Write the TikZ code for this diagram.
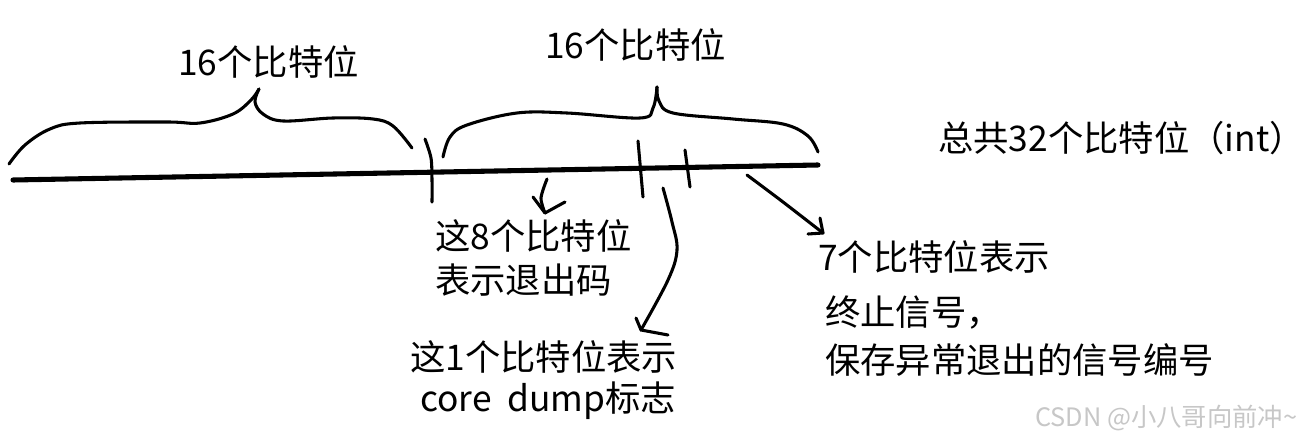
\documentclass[tikz,border=0pt]{standalone}
\usepackage{fontspec}
\newfontfamily\cjk{Noto Sans CJK SC}
\begin{document}
\begin{tikzpicture}[x=0.75pt,y=-0.75pt,
  hand/.style={line width=2.3pt,line cap=round,line join=round},
  lbl/.style={anchor=west,inner sep=0pt,font=\cjk\fontsize{26.5}{30}\selectfont},
  wm/.style={anchor=west,inner sep=0pt,text=black!22,font=\cjk\fontsize{19}{22}\selectfont}]
\useasboundingbox (0,0) rectangle (1305,442);
\fill[white] (0,0) rectangle (1305,442);
% main line
\coordinate (L) at (13,180);
\coordinate (R) at (818,165);
\draw[line width=3.8pt,line cap=round] (L) -- (R);
% ticks
\draw[hand] plot[smooth] coordinates {(425,139) (431,158) (432,180) (432,202)};
\draw[hand] (638,141) -- (643,197);
\draw[hand] (685,150) -- (690,187);
% left brace
\draw[hand] plot[smooth,tension=0.6] coordinates {(9,164) (25,145) (50,129) (80,123) (167,122) (200,123) (233,114) (251,100) (259,89)};
\draw[hand] plot[smooth,tension=0.6] coordinates {(259,89) (255,102) (263,114) (283,121) (333,118) (373,119) (393,126) (412,148)};
% right brace
\draw[hand] plot[smooth,tension=0.6] coordinates {(443,157) (450,137) (467,125) (517,113) (567,113) (640,118) (653,108) (657,87)};
\draw[hand] plot[smooth,tension=0.6] coordinates {(657,87) (659,101) (673,113) (733,119) (783,124) (808,136) (818,152)};
% labels
\node[lbl] (t16a) at (178,62) {16个比特位};
\node[lbl] (t16b) at (545,45) {16个比特位};
\node[lbl] (tall) at (938,138) {总共32个比特位（int）};
\node[lbl] (t8a) at (435,236) {这8个比特位};
\node[lbl] (t8b) at (435,280) {表示退出码};
\node[lbl] (t1a) at (410,357) {这1个比特位表示};
\node[lbl] (t1b) at (420,401) {core\ \ dump标志};
\node[lbl] (t7a) at (818,257) {7个比特位表示};
\node[lbl] (t7b) at (825,313) {终止信号，};
\node[lbl] (t7c) at (825,360) {保存异常退出的信号编号};
\node[wm] (wm) at (1035,418) {CSDN @小八哥向前冲\textasciitilde};
% arrow 1
\coordinate (a1s) at (547,179);
\coordinate (a1t) at (545,213);
\draw[hand] plot[smooth] coordinates {(a1s) (541,198) (a1t)};
\draw[hand] (533,197) -- (a1t) -- (565,202);
% arrow 2
\coordinate (a2s) at (663,188);
\coordinate (a2t) at (641,330);
\draw[hand] plot[smooth,tension=0.6] coordinates {(a2s) (672,222) (677,250) (668,280) (a2t)};
\draw[hand] (636,318) -- (a2t) -- (668,335);
% arrow 3
\coordinate (a3s) at (747,175);
\coordinate (a3t) at (823,233);
\draw[hand] plot[smooth] coordinates {(a3s) (783,202) (a3t)};
\draw[hand] (820,218) -- (a3t) -- (808,234);
\end{tikzpicture}
\end{document}
